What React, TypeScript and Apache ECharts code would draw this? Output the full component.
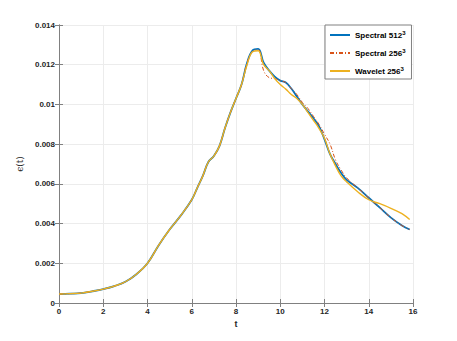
import React, { useEffect, useRef } from "react";
import * as echarts from "echarts";

const tValues = [0, 0.5, 1, 1.5, 2, 2.5, 3, 3.5, 4, 4.5, 5, 5.5, 6, 6.25, 6.5, 6.75, 7, 7.25, 7.5, 7.75, 8, 8.25, 8.5, 8.75, 9, 9.25, 9.5, 9.75, 10, 10.25, 10.5, 10.75, 11, 11.25, 11.5, 11.75, 12, 12.25, 12.5, 12.75, 13, 13.5, 14, 14.5, 15, 15.5, 15.85];

const spectral512 = [0.00045, 0.00047, 0.0005, 0.00059, 0.0007, 0.00085, 0.00107, 0.00145, 0.002, 0.0029, 0.0037, 0.0044, 0.0052, 0.0058, 0.0064, 0.0071, 0.0074, 0.0079, 0.0088, 0.0096, 0.0103, 0.011, 0.0121, 0.01272, 0.0128, 0.0121, 0.0117, 0.0114, 0.0112, 0.0111, 0.0108, 0.0104, 0.01, 0.00965, 0.0093, 0.0089, 0.00824, 0.0075, 0.007, 0.00655, 0.0062, 0.0058, 0.0053, 0.0048, 0.0043, 0.0039, 0.0037];

const spectral256 = [0.00045, 0.00047, 0.0005, 0.00059, 0.0007, 0.00085, 0.00107, 0.00145, 0.002, 0.0029, 0.0037, 0.0044, 0.0052, 0.0058, 0.0064, 0.0071, 0.0074, 0.0079, 0.0088, 0.0096, 0.0103, 0.011, 0.0121, 0.01268, 0.01275, 0.0117, 0.01135, 0.0113, 0.0112, 0.0111, 0.0108, 0.0105, 0.0101, 0.0098, 0.0094, 0.009, 0.0085, 0.008, 0.0072, 0.0067, 0.0063, 0.0058, 0.0053, 0.0048, 0.0043, 0.0039, 0.0037];

const wavelet256 = [0.00045, 0.00047, 0.0005, 0.00059, 0.0007, 0.00085, 0.00107, 0.00145, 0.002, 0.0029, 0.0037, 0.0044, 0.0052, 0.0058, 0.0064, 0.0071, 0.0074, 0.0079, 0.0088, 0.0096, 0.0103, 0.011, 0.012, 0.01265, 0.0127, 0.012, 0.0117, 0.0113, 0.011, 0.01077, 0.0105, 0.0103, 0.01, 0.0096, 0.0092, 0.0088, 0.0083, 0.0075, 0.0069, 0.0064, 0.0061, 0.0056, 0.0052, 0.005, 0.00477, 0.0045, 0.0042];

const seriesNames = ["Spectral 512", "Spectral 256", "Wavelet 256"];
const yTicks = ["0", "0.002", "0.004", "0.006", "0.008", "0.01", "0.012", "0.014"];

const FONT = "Liberation Sans";

export default function App() {
  const ref = useRef<HTMLDivElement>(null);
  useEffect(() => {
    if (!ref.current) return;
    const chart = echarts.init(ref.current, null, { renderer: "svg" });
    const pair = (ys: number[]) => tValues.map((t, i) => [t, ys[i]]);
    const axisLine = { show: true, lineStyle: { color: "#808080", width: 1 } };
    const splitLine = { show: true, lineStyle: { color: "#ececec", width: 1 } };
    const tick = { show: true, inside: true, length: 4, lineStyle: { color: "#808080" } };
    const labelStyle = { color: "#262626", fontSize: 8, fontWeight: "bold" as const, fontFamily: FONT };
    chart.setOption({
      animation: false,
      backgroundColor: "#ffffff",
      grid: { left: 59, top: 25, width: 354, height: 278, containLabel: false },
      legend: {
        left: 325,
        top: 25,
        orient: "vertical",
        backgroundColor: "#ffffff",
        borderColor: "#808080",
        borderWidth: 1,
        borderRadius: 0,
        padding: [5, 6, 4, 4],
        itemWidth: 20,
        itemHeight: 8,
        itemGap: 9,
        itemStyle: { opacity: 0 },
        formatter: (name: string) => `{n|${name}}{s|3}`,
        textStyle: {
          color: "#000",
          fontSize: 8,
          fontWeight: "bold",
          fontFamily: FONT,
          rich: {
            n: { fontSize: 8, fontWeight: "bold", fontFamily: FONT, color: "#000" },
            s: { fontSize: 6, fontWeight: "bold", fontFamily: FONT, color: "#000", verticalAlign: "top", padding: [0, 0, 4, 0] },
          },
        },
        data: seriesNames,
      },
      xAxis: [
        {
          type: "value",
          min: 0,
          max: 16,
          interval: 2,
          position: "bottom",
          axisLine,
          axisTick: tick,
          splitLine,
          axisLabel: { ...labelStyle, margin: 4 },
          name: "t",
          nameLocation: "middle",
          nameGap: 12,
          nameTextStyle: { color: "#262626", fontSize: 9, fontWeight: "bold", fontFamily: FONT },
        },
        {
          type: "value",
          min: 0,
          max: 16,
          interval: 2,
          position: "top",
          axisLine,
          axisTick: tick,
          splitLine: { show: false },
          axisLabel: { show: false },
        },
      ],
      yAxis: [
        {
          type: "value",
          min: 0,
          max: 0.014,
          interval: 0.002,
          position: "left",
          axisLine,
          axisTick: tick,
          splitLine,
          axisLabel: {
            ...labelStyle,
            margin: 4,
            formatter: (v: number) => yTicks[Math.round(v / 0.002)] ?? String(v),
          },
          name: "ϵ(t)",
          nameLocation: "middle",
          nameGap: 26,
          nameRotate: 90,
          nameTextStyle: { color: "#262626", fontSize: 9, fontFamily: "DejaVu Serif" },
        },
        {
          type: "value",
          min: 0,
          max: 0.014,
          interval: 0.002,
          position: "right",
          axisLine,
          axisTick: tick,
          splitLine: { show: false },
          axisLabel: { show: false },
        },
      ],
      series: [
        {
          name: seriesNames[0],
          type: "line",
          data: pair(spectral512),
          symbol: "none",
          smooth: 0.4,
          lineStyle: { color: "#0072BD", width: 1.8 },
          itemStyle: { color: "#0072BD" },
          z: 2,
        },
        {
          name: seriesNames[1],
          type: "line",
          data: pair(spectral256),
          symbol: "none",
          smooth: 0.4,
          lineStyle: { color: "#D95319", width: 1, type: [4, 2, 1, 2] },
          itemStyle: { color: "#D95319" },
          z: 3,
        },
        {
          name: seriesNames[2],
          type: "line",
          data: pair(wavelet256),
          symbol: "none",
          smooth: 0.4,
          lineStyle: { color: "#EDB120", width: 1.4 },
          itemStyle: { color: "#EDB120" },
          z: 4,
        },
      ],
    });
    return () => chart.dispose();
  }, []);
  return <div ref={ref} style={{ width: 457, height: 341, position: "absolute", left: 0, top: 0 }} />;
}
